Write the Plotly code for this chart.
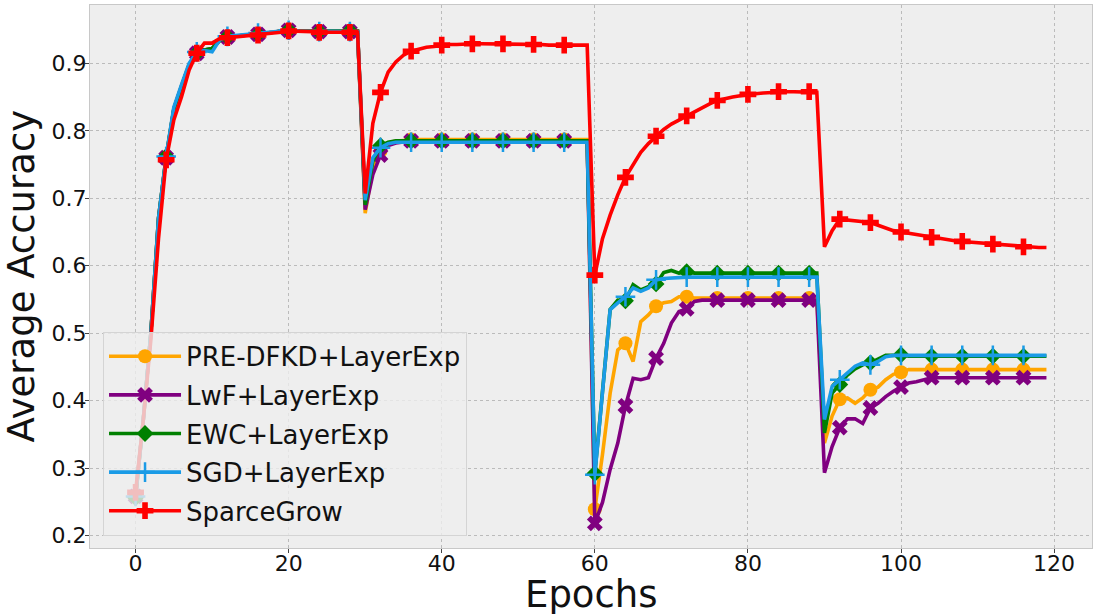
import plotly.graph_objects as go

epochs = list(range(120))

pre_dfkd = [
    0.258, 0.37, 0.50, 0.67, 0.760, 0.832, 0.866, 0.898, 0.915, 0.920,
    0.922, 0.934, 0.939, 0.940, 0.941, 0.942, 0.943, 0.945, 0.946, 0.948,
    0.949, 0.948, 0.948, 0.947, 0.947, 0.947, 0.947, 0.947, 0.948, 0.948,
    0.678, 0.745, 0.770, 0.782, 0.785, 0.786, 0.787, 0.787, 0.787, 0.787,
    0.787, 0.787, 0.787, 0.787, 0.787, 0.787, 0.787, 0.787, 0.787, 0.787,
    0.787, 0.787, 0.787, 0.787, 0.787, 0.787, 0.787, 0.787, 0.787, 0.787,
    0.239, 0.320, 0.411, 0.475, 0.485, 0.458, 0.517, 0.527, 0.540, 0.545,
    0.547, 0.554, 0.554, 0.552, 0.552, 0.552, 0.552, 0.552, 0.552, 0.552,
    0.552, 0.552, 0.552, 0.552, 0.552, 0.552, 0.552, 0.552, 0.552, 0.552,
    0.337, 0.377, 0.402, 0.404, 0.396, 0.404, 0.416, 0.420, 0.431, 0.439,
    0.442, 0.446, 0.446, 0.446, 0.446, 0.446, 0.446, 0.446, 0.446, 0.446,
    0.446, 0.446, 0.446, 0.446, 0.446, 0.446, 0.446, 0.446, 0.446, 0.446,
]

lwf = [
    0.258, 0.37, 0.50, 0.67, 0.760, 0.832, 0.866, 0.898, 0.915, 0.920,
    0.922, 0.934, 0.939, 0.940, 0.941, 0.942, 0.943, 0.945, 0.946, 0.948,
    0.949, 0.948, 0.948, 0.947, 0.947, 0.947, 0.947, 0.947, 0.947, 0.947,
    0.683, 0.735, 0.764, 0.778, 0.782, 0.784, 0.785, 0.785, 0.785, 0.785,
    0.785, 0.785, 0.785, 0.785, 0.785, 0.785, 0.785, 0.785, 0.785, 0.785,
    0.785, 0.785, 0.785, 0.785, 0.785, 0.785, 0.785, 0.785, 0.785, 0.785,
    0.218, 0.249, 0.298, 0.337, 0.392, 0.433, 0.431, 0.434, 0.463, 0.485,
    0.515, 0.532, 0.536, 0.547, 0.549, 0.549, 0.549, 0.549, 0.549, 0.549,
    0.549, 0.549, 0.549, 0.549, 0.549, 0.549, 0.549, 0.549, 0.549, 0.549,
    0.293, 0.332, 0.360, 0.373, 0.373, 0.366, 0.389, 0.396, 0.406, 0.414,
    0.420, 0.426, 0.428, 0.431, 0.434, 0.434, 0.434, 0.434, 0.434, 0.434,
    0.434, 0.434, 0.434, 0.434, 0.434, 0.434, 0.434, 0.434, 0.434, 0.434,
]

ewc = [
    0.256, 0.37, 0.50, 0.67, 0.762, 0.832, 0.866, 0.898, 0.915, 0.920,
    0.922, 0.934, 0.939, 0.940, 0.941, 0.942, 0.943, 0.945, 0.946, 0.948,
    0.949, 0.948, 0.948, 0.947, 0.947, 0.947, 0.947, 0.947, 0.948, 0.948,
    0.690, 0.755, 0.778, 0.783, 0.785, 0.785, 0.785, 0.785, 0.785, 0.785,
    0.785, 0.785, 0.785, 0.785, 0.785, 0.785, 0.785, 0.785, 0.785, 0.785,
    0.785, 0.785, 0.785, 0.785, 0.785, 0.785, 0.785, 0.785, 0.785, 0.785,
    0.292, 0.410, 0.535, 0.549, 0.548, 0.572, 0.564, 0.569, 0.573, 0.590,
    0.593, 0.589, 0.591, 0.589, 0.589, 0.589, 0.589, 0.589, 0.589, 0.589,
    0.589, 0.589, 0.589, 0.589, 0.589, 0.589, 0.589, 0.589, 0.589, 0.589,
    0.352, 0.411, 0.424, 0.438, 0.447, 0.453, 0.456, 0.461, 0.467, 0.467,
    0.468, 0.466, 0.466, 0.466, 0.466, 0.466, 0.466, 0.466, 0.466, 0.466,
    0.466, 0.466, 0.466, 0.466, 0.466, 0.466, 0.466, 0.466, 0.466, 0.466,
]

sgd = [
    0.258, 0.37, 0.50, 0.67, 0.762, 0.835, 0.868, 0.900, 0.917, 0.919,
    0.917, 0.935, 0.940, 0.941, 0.942, 0.944, 0.945, 0.946, 0.947, 0.948,
    0.949, 0.948, 0.948, 0.947, 0.947, 0.947, 0.947, 0.947, 0.947, 0.947,
    0.697, 0.760, 0.775, 0.781, 0.783, 0.783, 0.783, 0.783, 0.783, 0.783,
    0.783, 0.783, 0.783, 0.783, 0.783, 0.783, 0.783, 0.783, 0.783, 0.783,
    0.783, 0.783, 0.783, 0.783, 0.783, 0.783, 0.783, 0.783, 0.783, 0.783,
    0.290, 0.410, 0.535, 0.545, 0.554, 0.567, 0.562, 0.567, 0.579, 0.581,
    0.582, 0.582, 0.583, 0.583, 0.583, 0.583, 0.583, 0.583, 0.583, 0.583,
    0.583, 0.583, 0.583, 0.583, 0.583, 0.583, 0.583, 0.583, 0.583, 0.583,
    0.372, 0.421, 0.431, 0.441, 0.451, 0.456, 0.453, 0.458, 0.465, 0.467,
    0.467, 0.467, 0.467, 0.467, 0.467, 0.467, 0.467, 0.467, 0.467, 0.467,
    0.467, 0.467, 0.467, 0.467, 0.467, 0.467, 0.467, 0.467, 0.467, 0.467,
]

sparcegrow = [
    0.264, 0.37, 0.49, 0.64, 0.757, 0.816, 0.850, 0.890, 0.915, 0.930,
    0.930, 0.937, 0.938, 0.939, 0.940, 0.941, 0.942, 0.943, 0.944, 0.946,
    0.948, 0.948, 0.947, 0.947, 0.946, 0.946, 0.946, 0.946, 0.946, 0.946,
    0.707, 0.811, 0.857, 0.887, 0.902, 0.912, 0.918, 0.921, 0.924, 0.925,
    0.927, 0.928, 0.928, 0.929, 0.929, 0.929, 0.929, 0.929, 0.929, 0.929,
    0.929, 0.929, 0.928, 0.928, 0.927, 0.927, 0.927, 0.927, 0.927, 0.927,
    0.586, 0.640, 0.675, 0.705, 0.731, 0.750, 0.768, 0.781, 0.792, 0.802,
    0.810, 0.816, 0.822, 0.829, 0.835, 0.840, 0.845, 0.848, 0.850, 0.852,
    0.854, 0.855, 0.856, 0.857, 0.858, 0.858, 0.858, 0.858, 0.858, 0.857,
    0.628, 0.652, 0.669, 0.668, 0.667, 0.666, 0.664, 0.660, 0.656, 0.652,
    0.650, 0.648, 0.646, 0.644, 0.642, 0.640, 0.638, 0.637, 0.636, 0.635,
    0.634, 0.633, 0.632, 0.631, 0.630, 0.629, 0.628, 0.627, 0.627, 0.627,
]

series_names = ["PRE-DFKD+LayerExp", "LwF+LayerExp", "EWC+LayerExp",
                "SGD+LayerExp", "SparceGrow"]
series_values = [pre_dfkd, lwf, ewc, sgd, sparcegrow]
colors = ["#FFA500", "#800080", "#008000", "#1A9BE6", "#FF0000"]
symbols = ["circle", "x", "diamond", "cross-thin", "cross"]
sizes = [14, 14, 13, 14, 14]
mark_every = 4

x_ticks = [0, 20, 40, 60, 80, 100, 120]
y_ticks = [0.2, 0.3, 0.4, 0.5, 0.6, 0.7, 0.8, 0.9]

fig = go.Figure()
for name, vals, col, sym, sz in zip(series_names, series_values, colors, symbols, sizes):
    if sym == "cross-thin":
        marker = dict(symbol=sym, size=sz, color=col, line=dict(color=col, width=2.5))
    else:
        marker = dict(symbol=sym, size=sz, color=col, line=dict(color=col, width=0))
    fig.add_trace(go.Scatter(x=epochs, y=vals, mode="lines",
                             line=dict(color=col, width=3.6),
                             showlegend=False, legendgroup=name, hoverinfo="skip"))
    fig.add_trace(go.Scatter(x=epochs[::mark_every], y=vals[::mark_every], mode="markers",
                             marker=marker, showlegend=False, legendgroup=name))
    fig.add_trace(go.Scatter(x=[None], y=[None], mode="lines+markers", name=name,
                             line=dict(color=col, width=3.6), marker=marker,
                             legendgroup=name, showlegend=True))

axis_common = dict(
    tickfont=dict(size=22, color="#111111"),
    ticks="outside", ticklen=4, tickcolor="#444444",
    showgrid=True, gridcolor="#bbbbbb", griddash="dot", gridwidth=1,
    showline=True, mirror=True, linecolor="#c8c8c8", linewidth=1,
    zeroline=False, automargin=False,
)

fig.update_layout(
    width=1098, height=614,
    margin=dict(l=90, r=6, t=5, b=66),
    paper_bgcolor="white",
    plot_bgcolor="#eeeeee",
    font=dict(family="DejaVu Sans", color="#111111"),
    legend=dict(
        x=0.013, y=0.398, xanchor="left", yanchor="top",
        bgcolor="rgba(238,238,238,0.8)",
        bordercolor="#d4d4d4", borderwidth=1,
        font=dict(size=26, family="DejaVu Sans", color="#111111"),
        traceorder="grouped", tracegroupgap=1.8,
        itemwidth=72,
    ),
    xaxis=dict(
        range=[-5.95, 124.95],
        tickmode="array", tickvals=x_ticks, ticktext=[str(v) for v in x_ticks],
        ticklabelstandoff=-8,
        **axis_common,
    ),
    yaxis=dict(
        range=[0.1815, 0.9865],
        tickmode="array", tickvals=y_ticks, ticktext=["%.1f" % v for v in y_ticks],
        ticklabelstandoff=-6,
        **axis_common,
    ),
    annotations=[
        dict(text="Epochs", xref="paper", yref="paper", x=0.5, y=0,
             xanchor="center", yanchor="middle", yshift=-46, showarrow=False,
             font=dict(size=37, color="#111111", family="DejaVu Sans")),
        dict(text="Average Accuracy", xref="paper", yref="paper", x=0, y=0.5,
             xanchor="center", yanchor="middle", xshift=-69, textangle=-90,
             showarrow=False,
             font=dict(size=37, color="#111111", family="DejaVu Sans")),
    ],
)

fig.write_html("out.html", config={"displayModeBar": False},
               post_script="document.body.style.margin='0';document.body.style.overflow='hidden';")
